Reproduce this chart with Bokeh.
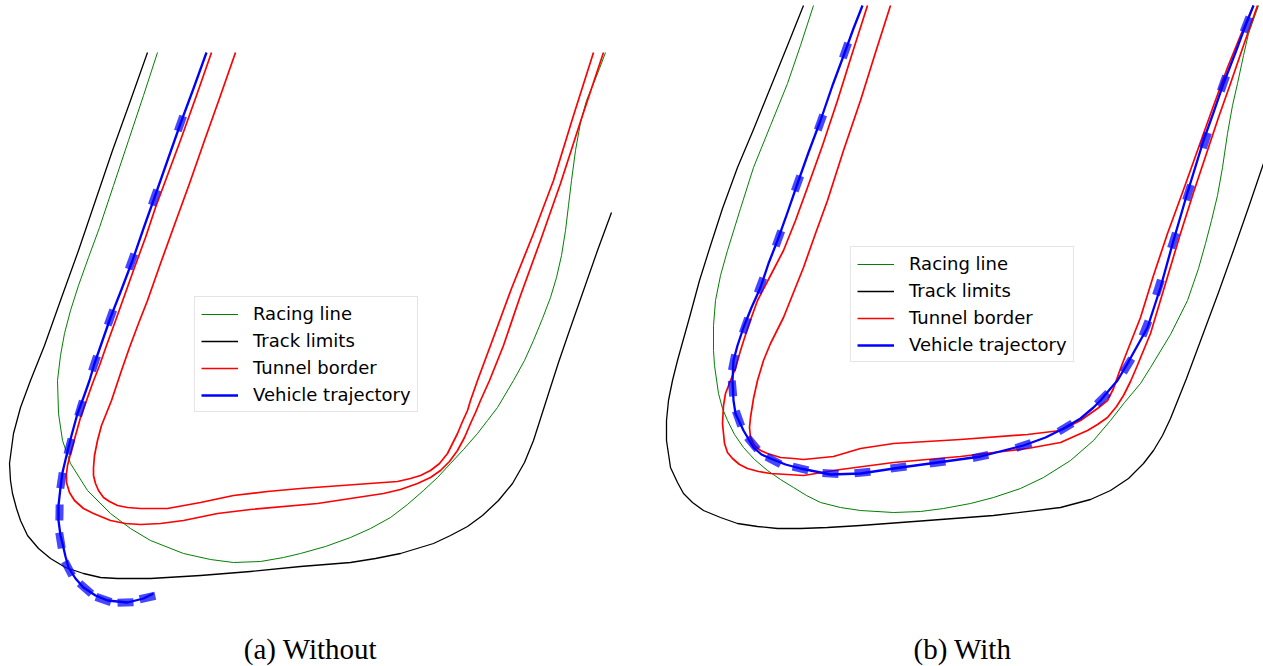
from bokeh.plotting import figure
from bokeh.models import Range1d, Legend, LegendItem
from bokeh.layouts import row
from bokeh.core.properties import value
from bokeh.embed import file_html
from bokeh.resources import INLINE
import numpy as np

# ---------------------------------------------------------------------------
# Hairpin scene, drawn in screen-aligned track units (1 unit = 1 px, y downward)
# ---------------------------------------------------------------------------

# (a) Without -------------------------------------------------------------
track_a_x = [147, 130, 112, 95, 78, 60, 44, 30, 20, 13, 9, 10, 12, 16, 20, 27, 38, 50, 65, 83,
             100, 117, 150, 200, 250, 300, 350, 375, 400, 433, 450, 467, 482, 498, 512, 524, 533, 541,
             549, 558, 569, 583, 597, 611]
track_a_y = [52, 100, 150, 200, 250, 300, 345, 380, 407, 433, 463, 480, 493, 508, 520, 535, 548, 558, 567, 573,
             577, 578, 578, 575, 571, 566, 562, 558, 553, 543, 535, 526, 515, 500, 483, 462, 440, 415,
             390, 362, 330, 290, 250, 212]

racing_a_x = [157, 143, 128, 113, 99, 88, 78, 70, 64, 60, 57, 58, 62, 70, 87, 110, 130, 150, 183, 210, 233,
              260, 283, 300, 325, 350, 370, 390, 407, 423, 437, 450, 463, 477, 487, 497, 513, 524, 533, 542,
              550, 556, 561, 565, 568, 571, 575, 580, 586, 593, 599, 605]
racing_a_y = [52, 95, 140, 185, 227, 257, 285, 310, 333, 355, 380, 413, 440, 463, 490, 513, 528, 540, 553, 559, 562,
              561, 557, 553, 546, 537, 528, 517, 504, 490, 477, 463, 449, 433, 420, 407, 380, 360, 340, 318,
              297, 277, 255, 230, 205, 180, 150, 122, 100, 83, 68, 52]

tunnel_out_a_x = [211, 196, 181, 168, 155, 145, 134, 124, 114, 106, 99, 92, 86, 80, 75, 70, 67, 66, 66, 69, 74,
                  83, 93, 110, 125, 140, 160, 183, 217, 250, 317, 383, 400, 417, 430, 440, 449, 457, 464, 470,
                  475, 480, 489, 503, 520, 540, 560, 581, 603]
tunnel_out_a_y = [52, 95, 137, 172, 207, 237, 267, 295, 323, 345, 365, 383, 400, 417, 435, 453, 465, 473, 482, 492, 500,
                  508, 513, 520, 523, 524, 523, 520, 513, 509, 503, 493, 489, 483, 477, 470, 461, 450, 437, 423,
                  412, 400, 380, 345, 295, 240, 183, 118, 52]

tunnel_in_a_x = [235, 220, 204, 189, 173, 160, 147, 138, 129, 121, 116, 111, 107, 101, 97, 94, 93, 93, 95, 98, 103,
                 109, 117, 127, 140, 167, 200, 233, 267, 300, 383, 397, 410, 420, 430, 439, 447, 452, 457, 462, 467,
                 470, 477, 490, 511, 533, 553, 573, 593]
tunnel_in_a_y = [52, 95, 140, 183, 227, 263, 300, 323, 347, 370, 385, 400, 410, 425, 440, 455, 467, 475, 483, 490, 497,
                 501, 505, 507, 508, 508, 502, 495, 491, 488, 482, 481, 478, 475, 470, 463, 453, 443, 433, 421, 410,
                 400, 380, 345, 288, 233, 180, 115, 52]

traj_a_x = [206, 193, 180, 167, 154, 143, 132, 121, 110, 102, 94, 89, 83, 77, 71, 66, 62, 60, 58, 58,
            60, 62, 65, 68, 75, 83, 95, 107, 127, 143, 153]
traj_a_y = [52, 88, 123, 160, 197, 228, 260, 289, 317, 340, 363, 380, 397, 413, 435, 455, 472, 487, 505, 520,
            535, 543, 556, 567, 578, 587, 595, 600, 602, 598, 593]

# sampled vehicle positions along the trajectory
pose_a_x = [180, 154, 131, 110, 94, 80, 69, 61, 59, 60, 68, 85, 103, 125, 147]
pose_a_y = [123, 197, 261, 317, 363, 408, 446, 480, 512, 540, 568, 588, 599, 602, 597]

# (b) With ----------------------------------------------------------------
track_b_x = [803, 787, 770, 753, 737, 722, 710, 699, 689, 682, 677, 672, 668, 666, 666, 670, 677, 683, 692, 703,
             720, 737, 757, 777, 800, 827, 860, 927, 993, 1060, 1090, 1110, 1128, 1143, 1153, 1162, 1170, 1178,
             1186, 1202, 1218, 1233, 1248, 1263]
track_b_y = [5, 45, 87, 129, 167, 208, 245, 280, 317, 342, 360, 380, 400, 420, 440, 467, 482, 493, 502, 510,
             517, 523, 526, 528, 528, 527, 525, 520, 515, 507, 499, 490, 478, 463, 450, 435, 418, 398,
             378, 335, 292, 250, 207, 163]

racing_b_x = [813, 800, 787, 770, 753, 740, 727, 720, 715, 713, 713, 714, 718, 722, 727, 734, 743, 754, 767, 780,
              793, 806, 820, 840, 860, 893, 920, 943, 970, 993, 1020, 1043, 1070, 1093, 1110, 1124, 1140, 1150,
              1170, 1187, 1198, 1205, 1211, 1217, 1222, 1227, 1232, 1237, 1243, 1248, 1258]
racing_b_y = [5, 45, 83, 125, 167, 208, 250, 275, 300, 325, 350, 365, 393, 408, 420, 434, 447, 459, 470, 479,
              487, 495, 502, 507, 510, 512, 511, 508, 503, 497, 488, 477, 460, 440, 420, 402, 383, 367,
              334, 300, 268, 243, 220, 195, 167, 133, 105, 83, 55, 33, 5]

tunnel_out_b_x = [867, 852, 837, 822, 807, 795, 783, 770, 757, 748, 740, 735, 730, 725, 723, 722, 724, 727, 732,
                  739, 747, 758, 770, 787, 803, 840, 893, 960, 1027, 1060, 1087, 1097, 1107, 1116, 1123, 1130, 1136,
                  1143, 1150, 1165, 1180, 1193, 1207, 1218, 1230, 1243, 1257]
tunnel_out_b_y = [5, 52, 100, 145, 187, 220, 250, 275, 300, 325, 350, 368, 380, 393, 405, 423, 443, 452, 458,
                  464, 468, 471, 473, 474, 475, 469, 462, 456, 448, 442, 430, 424, 417, 406, 395, 381, 367,
                  350, 333, 283, 233, 192, 150, 117, 83, 45, 5]

tunnel_in_b_x = [890, 875, 860, 843, 827, 815, 803, 793, 783, 770, 763, 757, 753, 750, 749, 750, 754, 760, 767, 780,
                 793, 803, 833, 860, 893, 960, 1027, 1060, 1080, 1097, 1107, 1113, 1120, 1127, 1140, 1153, 1167, 1182,
                 1197, 1212, 1227, 1240, 1253]
tunnel_in_b_y = [5, 52, 100, 150, 200, 233, 267, 292, 317, 343, 360, 380, 398, 417, 427, 437, 445, 450, 453, 457,
                 458, 459, 456, 448, 443, 439, 434, 430, 420, 408, 400, 388, 368, 350, 317, 275, 233, 192,
                 150, 108, 67, 35, 5]

traj_b_x = [862, 853, 845, 832, 820, 808, 797, 787, 777, 768, 760, 751, 743, 737, 733, 732, 733, 735, 743, 753,
            761, 770, 785, 800, 820, 830, 860, 900, 937, 980, 1023, 1045, 1063, 1080, 1093, 1100, 1110, 1117, 1127,
            1137, 1147, 1160, 1173, 1187, 1203, 1213, 1223, 1235, 1245, 1253]
traj_b_y = [5, 28, 50, 85, 120, 152, 183, 212, 240, 263, 287, 307, 327, 345, 360, 380, 400, 413, 430, 447,
            454, 458, 464, 468, 472, 474, 473, 467, 462, 456, 445, 437, 428, 418, 407, 400, 388, 380, 363,
            345, 327, 287, 240, 192, 140, 112, 83, 52, 25, 5]

pose_b_x = [845, 820, 797, 778, 760, 745, 733, 732, 738, 752, 773, 800, 830, 862, 898, 937, 980, 1023, 1065,
            1102, 1127, 1145, 1158, 1173, 1188, 1205, 1223, 1246]
pose_b_y = [50, 122, 183, 238, 285, 325, 362, 388, 418, 443, 460, 468, 473, 472, 467, 462, 456, 445, 427,
            398, 365, 328, 287, 240, 192, 140, 83, 24]

captions = ["(a) Without", "(b) With"]
legend_labels = ["Racing line", "Track limits", "Tunnel border", "Vehicle trajectory"]

GREEN, BLACK, RED, BLUE = "#008000", "#000000", "#ff0000", "#0000ff"
PAGE_H = 666


def footprints(xs, ys, half=8.0):
    """Short segments centred on each pose, aligned with the direction of travel."""
    x = np.asarray(xs, float)
    y = np.asarray(ys, float)
    dx, dy = np.gradient(x), np.gradient(y)
    n = np.hypot(dx, dy)
    ux, uy = dx / n, dy / n
    return x - half * ux, y - half * uy, x + half * ux, y + half * uy


def panel(x0, width, data, caption, cap_x, legend_xy):
    p = figure(width=width, height=PAGE_H, x_range=Range1d(x0, x0 + width), y_range=Range1d(PAGE_H, 0),
               output_backend="svg", toolbar_location=None, min_border=0)
    p.axis.visible = False
    p.grid.visible = False
    p.outline_line_color = None
    p.background_fill_color = "white"
    p.border_fill_color = "white"

    (rx, ry), (tx, ty), (ox, oy), (ix, iy), (vx, vy), (px, py) = data
    r_green = p.line(rx, ry, line_color=GREEN, line_width=1.0, line_join="round")
    r_black = p.line(tx, ty, line_color=BLACK, line_width=1.3, line_join="round")
    r_red = p.line(ox, oy, line_color=RED, line_width=1.7, line_join="round")
    p.line(ix, iy, line_color=RED, line_width=1.7, line_join="round")
    r_blue = p.line(vx, vy, line_color=BLUE, line_width=2.3, line_join="round")
    sx0, sy0, sx1, sy1 = footprints(px, py)
    p.segment(sx0, sy0, sx1, sy1, line_color=BLUE, line_width=8, line_alpha=0.72, line_cap="butt")

    p.text(x=[cap_x], y=[648], text=[caption], text_font=value("Liberation Serif"),
           text_font_size="29px", text_align="center", text_baseline="middle", text_color="black")

    items = [LegendItem(label=lab, renderers=[r]) for lab, r in
             zip(legend_labels, [r_green, r_black, r_red, r_blue])]
    leg = Legend(items=items, location=legend_xy, label_text_font="DejaVu Sans", label_text_font_size="18px",
                 label_text_color="black", glyph_width=37, glyph_height=20, label_height=20, spacing=6,
                 padding=6, label_standoff=15, border_line_color="#cccccc", border_line_width=1.2,
                 background_fill_alpha=0.8, margin=0)
    p.add_layout(leg)
    return p


p1 = panel(0, 631,
           [(racing_a_x, racing_a_y), (track_a_x, track_a_y), (tunnel_out_a_x, tunnel_out_a_y),
            (tunnel_in_a_x, tunnel_in_a_y), (traj_a_x, traj_a_y), (pose_a_x, pose_a_y)],
           captions[0], 310, (194, 254))
p2 = panel(631, 632,
           [(racing_b_x, racing_b_y), (track_b_x, track_b_y), (tunnel_out_b_x, tunnel_out_b_y),
            (tunnel_in_b_x, tunnel_in_b_y), (traj_b_x, traj_b_y), (pose_b_x, pose_b_y)],
           captions[1], 962, (219, 304))

layout = row(p1, p2, spacing=0)
open("out.html", "w").write(file_html(layout, INLINE))
